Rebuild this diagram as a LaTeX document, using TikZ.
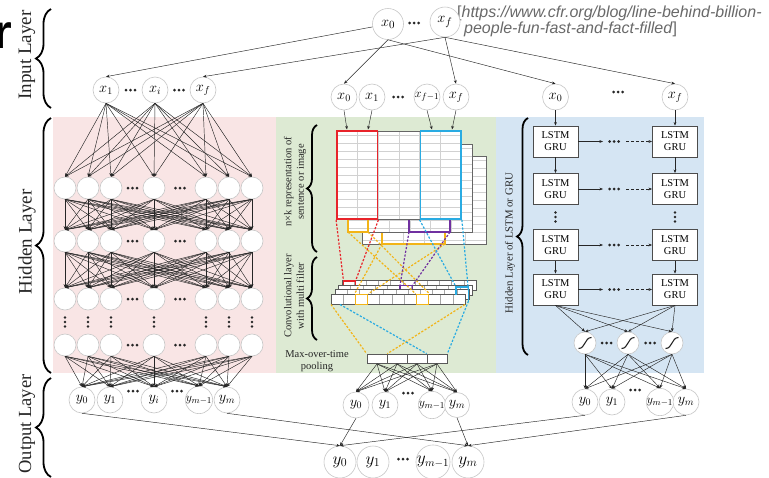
\documentclass[tikz,border=0pt]{standalone}
\usepackage{fontspec}
\setmainfont{Liberation Serif}
\newfontfamily\sansurl{Liberation Sans}
\usetikzlibrary{arrows.meta,decorations.pathreplacing}
\definecolor{pinkbg}{RGB}{249,229,229}
\definecolor{greenbg}{RGB}{221,234,211}
\definecolor{bluebg}{RGB}{213,229,243}
\definecolor{fred}{RGB}{232,35,42}
\definecolor{fcyan}{RGB}{41,171,226}
\definecolor{fyel}{RGB}{242,180,24}
\definecolor{fpur}{RGB}{112,48,160}
\definecolor{urlgray}{RGB}{105,105,105}
\tikzset{
  hdots/.pic={\foreach \d in {-4.5,0,4.5} \fill[black!85] (\d,0) circle (1.5pt);},
  vdots/.pic={\foreach \d in {-4.5,0,4.5} \fill[black!85] (0,\d) circle (1.3pt);},
  sigc/.pic={\draw[line width=1.1pt,black!85] (-6.5,5.5) .. controls (0.5,5.5) and (-0.5,-5.5) .. (6.5,-5.5);},
  stripc/.pic={\fill[white] (0,0) rectangle (134,10);
    \foreach \k in {1,...,10} \draw[black!35,line width=0.5pt] (12.18*\k,0) -- (12.18*\k,10);
    \draw[black!65,line width=0.8pt] (0,0) rectangle (134,10);},
  sheetc/.pic={\fill[white] (0,0) rectangle (124,88);
    \foreach \k in {0,...,10} \draw[black!18,line width=0.4pt] (0,4+8*\k) -- (124,4+8*\k);
    \foreach \k in {1,...,5} \draw[black!18,line width=0.4pt] (20.667*\k,0) -- (20.667*\k,88);
    \draw[black!60,line width=1pt] (0,0) rectangle (124,88);}
}
\begin{document}
\begin{tikzpicture}[x=1pt,y=-1pt,
  neuron/.style={circle,draw=black!22,fill=white,line width=0.6pt,minimum size=22pt,inner sep=0pt},
  io/.style={circle,draw=black!22,fill=white,line width=0.6pt,minimum size=26pt,inner sep=0pt,font=\fontsize{14}{14}\selectfont},
  iow/.style={io,font=\fontsize{12.5}{12.5}\selectfont},
  bigio/.style={io,minimum size=32pt,font=\fontsize{17}{17}\selectfont},
  conn/.style={-{Stealth[length=3.6pt,width=2.8pt]},line width=0.45pt,draw=black!85},
  lstm/.style={draw=black!70,fill=white,line width=0.8pt,minimum width=45pt,minimum height=31pt,inner sep=0pt,align=center,font=\fontsize{10.5}{12}\selectfont},
  lbrace/.style={decorate,decoration={brace,amplitude=#1},line width=1.8pt,draw=black},
  lay/.style={rotate=90,font=\fontsize{19}{19}\selectfont,text=black!85},
  small/.style={font=\fontsize{10.5}{12.5}\selectfont,align=center,text=black!85},
  filt/.style={draw=#1,line width=1.8pt,minimum height=88pt,inner sep=0pt},
  ybox/.style={draw=fyel,line width=1.6pt,minimum width=12.2pt,minimum height=10pt,inner sep=0pt},
  pool/.style={draw=black!65,fill=white,line width=0.8pt,minimum width=20pt,minimum height=9.5pt,inner sep=0pt},
  dsh/.style={draw=#1,line width=1.2pt,dash pattern=on 2.2pt off 1.6pt}
]
\useasboundingbox (0,0) rectangle (769,477);
\fill[white] (0,0) rectangle (769,477);
% backgrounds
\fill[pinkbg] (53,117) rectangle (276,373);
\fill[greenbg] (276,117) rectangle (496,373);
\fill[bluebg] (496,117) rectangle (704,373);

% cropped letter and url
\node[anchor=base west,inner sep=0pt,font={\sansurl\bfseries\fontsize{48}{48}\selectfont}] (rr) at (-7,48) {r};
\node[anchor=base west,inner sep=0pt,text=urlgray,font={\sansurl\fontsize{16}{16}\selectfont}] (url1) at (457,17) {[\textit{https://www.cfr.org/blog/line-behind-billion-}};
\node[anchor=base west,inner sep=0pt,text=urlgray,font={\sansurl\fontsize{16}{16}\selectfont}] (url2) at (464,33) {\textit{people-fun-fast-and-fact-filled}]};

% layer labels and braces
\node[lay] (tin) at (27,55) {Input Layer};
\node[lay] (thid) at (27,242) {Hidden Layer};
\node[lay,font=\fontsize{18.5}{18.5}\selectfont] (tout) at (27,424) {Output Layer};
\draw[lbrace=15pt] (51,108) -- (51,9);
\draw[lbrace=15pt] (51,373) -- (51,118);
\draw[lbrace=15pt] (51,477) -- (51,378);

% top inputs
\node[io,minimum size=31pt,font=\fontsize{15}{15}\selectfont] (tx0) at (388,24) {$x_0$};
\pic at (414,23) {hdots};
\node[io,minimum size=30pt,font=\fontsize{15}{15}\selectfont] (txf) at (445,22) {$x_f$};

% left inputs
\node[io] (lin1) at (106,90) {$x_1$};
\node[io] (lin2) at (155,90) {$x_i$};
\node[io] (lin3) at (203,90) {$x_f$};
\pic at (130.5,90) {hdots};
\pic at (179,90) {hdots};
% middle inputs
\node[io] (mx0) at (344,97) {$x_0$};
\node[io] (mx1) at (372,97) {$x_1$};
\pic at (398,97) {hdots};
\node[iow] (mxf1) at (427,97) {$x_{f-1}$};
\node[io] (mxf) at (456,97) {$x_f$};
% right inputs
\node[io] (rx0) at (555.5,97) {$x_0$};
\pic at (618,92) {hdots};
\node[io] (rxf) at (675,97) {$x_f$};

\draw[conn] (tx0) -- (lin1.north);
\draw[conn] (tx0.south) -- (mx0.north);
\draw[conn] (tx0.south) -- (rx0.north);
\draw[conn] (txf.south) -- (lin3.north);
\draw[conn] (txf.south) -- (mxf.north);
\draw[conn] (txf.south) -- (rxf.north);

% ---------- left panel ----------
\foreach \r/\yy in {1/188,2/241,3/299,4/345}{
  \foreach \xx [count=\i] in {65,88,111,154,206,229,252}
    \node[neuron] (h\r-\i) at (\xx,\yy) {};
  \pic at (132.5,\yy) {hdots};
  \pic at (180,\yy) {hdots};
}
\foreach \xx in {65,88,111,154,206,229,252} \pic at (\xx,322) {vdots};
\node[io] (lout1) at (82,400) {$y_0$};
\node[io] (lout2) at (110,400) {$y_1$};
\node[io] (lout3) at (154,400) {$y_i$};
\node[iow] (lout4) at (199,400) {$y_{m-1}$};
\node[io] (lout5) at (227,400) {$y_m$};
\pic at (133,391) {hdots};
\pic at (177,391) {hdots};
\foreach \i in {1,2,3} \foreach \j in {1,...,7} \draw[conn] (lin\i.south) -- (h1-\j.north);
\foreach \r/\s in {1/2,2/3} \foreach \i in {1,...,7} \foreach \j in {1,...,7} \draw[conn] (h\r-\i.south) -- (h\s-\j.north);
\foreach \i in {1,...,7} \foreach \j in {1,...,5} \draw[conn] (h4-\i.south) -- (lout\j.north);

% ---------- middle panel ----------
\node[small,rotate=90] (tnk) at (295,182) {n×k representation of\\sentence or image};
\node[small,rotate=90] (tconv) at (294,296) {Convolutional layer\\with multi filter};
\node[small] (tmax) at (317,361) {Max-over-time\\pooling};
\draw[lbrace=10pt] (317,252) -- (317,125);
\draw[lbrace=10pt] (317,340) -- (317,257);

\pic at (362,156) {sheetc};
\pic at (348,144) {sheetc};
\pic at (337,131) {sheetc};
\node[filt=fred,minimum width=40.5pt] (redf) at (357.25,175) {};
\node[filt=fcyan,minimum width=40.5pt] (bluef) at (440.75,175) {};
\coordinate (ma1) at (347,129.5);
\coordinate (ma2) at (368,129.5);
\coordinate (ma3) at (432,129.5);
\coordinate (ma4) at (452,129.5);
\draw[conn] (mx0.south) -- (ma1);
\draw[conn] (mx1.south) -- (ma2);
\draw[conn] (mxf1.south) -- (ma3);
\draw[conn] (mxf.south) -- (ma4);

\coordinate (yua) at (348,232); \coordinate (yub) at (368,232);
\draw[fyel,line width=1.5pt] (348,219.5) -- (yua) -- (yub) -- (368,219.5);
\coordinate (pua) at (409,232); \coordinate (pub) at (450,232);
\draw[fpur,line width=1.5pt] (409,219.5) -- (pua) -- (pub) -- (450,219.5);
\coordinate (ysa) at (382,244); \coordinate (ysb) at (445,244);
\draw[fyel,line width=1.5pt] (382,232.5) -- (ysa) -- (ysb) -- (445,232.5);

\pic at (342,280.5) {stripc};
\coordinate (rba) at (343.5,281); \coordinate (rbb) at (355.5,281);
\draw[fred,line width=1.4pt] (343.5,285) -- (rba) -- (rbb) -- (355.5,285);
\pic at (338.5,285) {stripc};
\coordinate (pba) at (400,285.5); \coordinate (pbb) at (412.5,285.5);
\draw[fpur,line width=1.4pt] (400,289.5) -- (pba) -- (pbb) -- (412.5,289.5);
\pic at (335,289.5) {stripc};
\pic at (331,294.5) {stripc};
\node[ybox] (yb1) at (361.5,299.5) {};
\node[ybox] (yb2) at (422.5,299.5) {};
\coordinate (cba) at (456,287); \coordinate (cbb) at (468.5,292); \coordinate (cbc) at (468.5,301);
\draw[fcyan,line width=1.4pt] (456,295) -- (cba) -- (468.5,287) -- (cbc);
\coordinate (sfl) at (331,304.5); \coordinate (sfr) at (465,304.5); \coordinate (sbl) at (340,304.5);

\foreach \i in {1,...,4} \node[pool] (p\i) at (357+20*\i,358.75) {};

\draw[dsh=fred] (redf.south west) -- (rba);
\draw[dsh=fred] (redf.south east) -- (rbb);
\draw[dsh=fyel] (yua) -- (yb2.north west);
\draw[dsh=fyel] (yub) -- (yb2.north east);
\draw[dsh=fyel] (ysa) -- (yb1.north west);
\draw[dsh=fyel] (ysb) -- (yb1.north east);
\draw[dsh=fpur] (pua) -- (pba);
\draw[dsh=fpur] (pub) -- (pbb);
\draw[dsh=fcyan] (bluef.south west) -- (cba);
\draw[dsh=fcyan] (bluef.south east) -- (cbb);
\draw[dsh=fyel] (sfl) -- (p1.north west);
\draw[dsh=fyel] (sfr) -- (p1.north east);
\draw[dsh=fcyan] (sbl) -- (p4.north west);
\draw[dsh=fcyan] (cbc) -- (p4.north east);

\node[io] (mout1) at (356,405) {$y_0$};
\node[io] (mout2) at (385,405) {$y_1$};
\pic at (408,393) {hdots};
\node[iow,minimum size=25pt] (mout3) at (432,405) {$y_{m-1}$};
\node[io,minimum size=25pt] (mout4) at (457,405) {$y_m$};
\foreach \i in {1,...,4} \foreach \j in {1,...,4} \draw[conn] (p\i.south) -- (mout\j.north);

% ---------- right panel ----------
\node[small,rotate=90,font=\fontsize{10.8}{12}\selectfont] (tlstm) at (510,243) {Hidden Layer of LSTM or GRU};
\draw[lbrace=11pt] (528,355) -- (528,118);
\foreach \k/\yy in {1/141.5,2/189,3/245,4/289.5}{
  \node[lstm] (L\k) at (555.5,\yy) {LSTM\\GRU};
  \node[lstm] (R\k) at (675,\yy) {LSTM\\GRU};
  \coordinate (ha\k) at (603,\yy);
  \coordinate (hb\k) at (626,\yy);
  \draw[conn] (L\k.east) -- (ha\k);
  \pic at (614,\yy) {hdots};
  \draw[conn,dash pattern=on 3pt off 2pt] (hb\k) -- (R\k.west);
}
\draw[conn] (rx0.south) -- (L1.north);
\draw[conn] (L1.south) -- (L2.north);
\draw[conn] (L3.south) -- (L4.north);
\draw[conn] (rxf.south) -- (R1.north);
\draw[conn] (R1.south) -- (R2.north);
\draw[conn] (R3.south) -- (R4.north);
\pic at (555.5,217) {vdots};
\pic at (675,217) {vdots};

\foreach \xx [count=\i] in {585,628,672}{
  \node[neuron] (s\i) at (\xx,343) {};
  \pic at (\xx,343) {sigc};
}
\pic at (606.5,343) {hdots};
\pic at (650,343) {hdots};
\node[io] (rout1) at (585,402) {$y_0$};
\node[io] (rout2) at (612,402) {$y_1$};
\pic at (635,390) {hdots};
\node[iow] (rout3) at (660,402) {$y_{m-1}$};
\node[io] (rout4) at (686,402) {$y_m$};
\foreach \i in {1,2,3}{
  \draw[conn] (L4.south) -- (s\i.north);
  \draw[conn] (R4.south) -- (s\i.north);
}
\foreach \i in {1,2,3} \foreach \j in {1,...,4} \draw[conn] (s\i.south) -- (rout\j.north);

% ---------- final outputs ----------
\node[bigio] (fout1) at (340,462) {$y_0$};
\node[bigio] (fout2) at (373,462) {$y_1$};
\pic at (403,459) {hdots};
\node[bigio,font=\fontsize{16}{16}\selectfont] (fout3) at (433,462) {$y_{m-1}$};
\node[bigio] (fout4) at (468,462) {$y_m$};
\draw[conn] (lout1.south) -- (fout1.north);
\draw[conn] (mout1.south) -- (fout1.north);
\draw[conn] (rout1.south) -- (fout1.north);
\draw[conn] (lout5.south) -- (fout4.north);
\draw[conn] (mout4.south) -- (fout4.north);
\draw[conn] (rout4.south) -- (fout4.north);
\end{tikzpicture}
\end{document}
